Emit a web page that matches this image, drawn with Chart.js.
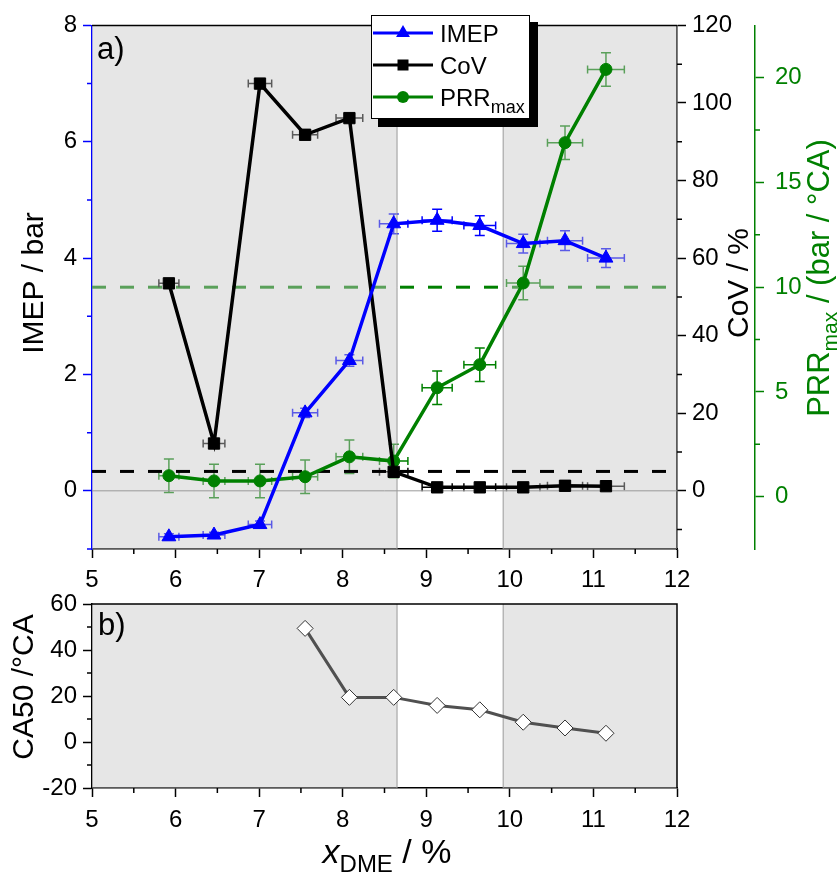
<!DOCTYPE html>
<html>
<head>
<meta charset="utf-8">
<script src="https://cdn.jsdelivr.net/npm/chart.js@4.4.0/dist/chart.umd.min.js"></script>
<style>
  body { margin: 0; background: #fff; }
  #wrap { position: relative; width: 840px; height: 874px; }
  canvas { position: absolute; left: 0; }
  #top { top: 0; }
  #bot { top: 580px; }
</style>
</head>
<body>
<div id="wrap">
  <canvas id="top" width="840" height="600"></canvas>
  <canvas id="bot" width="840" height="294"></canvas>
</div>
<script>
// values
const xDme    = [5.92, 6.46, 7.01, 7.55, 8.08, 8.61, 9.13, 9.64, 10.16, 10.66, 11.15];
const xErr    = [0.12, 0.13, 0.14, 0.15, 0.16, 0.17, 0.18, 0.19, 0.20, 0.21, 0.22];
const imep    = [-0.79, -0.76, -0.58, 1.34, 2.24, 4.59, 4.65, 4.56, 4.25, 4.30, 4.00];
const imepErr = [0.05, 0.05, 0.06, 0.08, 0.10, 0.17, 0.19, 0.17, 0.16, 0.17, 0.16];
const cov     = [53.5, 12.2, 105.0, 91.8, 96.1, 4.9, 0.9, 0.9, 0.9, 1.3, 1.2];
const prr     = [1.0, 0.75, 0.75, 0.95, 1.9, 1.7, 5.2, 6.3, 10.2, 16.9, 20.4];
const prrErr  = [0.8, 0.8, 0.8, 0.8, 0.8, 0.8, 0.8, 0.8, 0.8, 0.8, 0.8];
const covLimit = 5;
const prrLimit = 10;
const whiteBand = [8.65, 9.92];

const ca50X = [7.55, 8.08, 8.61, 9.13, 9.64, 10.16, 10.66, 11.15];
const ca50  = [49.4, 19.4, 19.4, 15.9, 14.0, 8.6, 6.1, 3.8];

const seriesNames = ['IMEP', 'CoV', 'PRR'];

const xTicks  = [5, 5.5, 6, 6.5, 7, 7.5, 8, 8.5, 9, 9.5, 10, 10.5, 11, 11.5, 12];
const xLabels = [5, 6, 7, 8, 9, 10, 11, 12];
const imepTicks  = [-1, 0, 1, 2, 3, 4, 5, 6, 7, 8];
const imepLabels = [0, 2, 4, 6, 8];
const covTicks   = [-10, 0, 10, 20, 30, 40, 50, 60, 70, 80, 90, 100, 110, 120];
const covLabels  = [0, 20, 40, 60, 80, 100, 120];
const prrTicks   = [0, 2.5, 5, 7.5, 10, 12.5, 15, 17.5, 20];
const prrLabels  = [0, 5, 10, 15, 20];
const caTicks    = [-20, -10, 0, 10, 20, 30, 40, 50, 60];
const caLabels   = [-20, 0, 20, 40, 60];

const FONT = "'Liberation Sans', Arial, sans-serif";
Chart.defaults.font.family = FONT;
Chart.defaults.color = '#000';

const BLUE = '#0000ff', GREEN = '#008000', SHADE = 'rgba(200,200,200,0.45)';
const MAJOR = 9, MINOR = 5;

function pts(xs, ys) { return xs.map((x, i) => ({ x: x, y: ys[i] })); }

// major ticks come from chart.js, the short minor ones are added in afterDraw
function axis(pos, min, max, ticks, labels, color, extra, tickOpts) {
  return Object.assign({
    type: 'linear', position: pos, min: min, max: max, z: 1,
    afterBuildTicks: s => { s.ticks = ticks.map(v => ({ value: v })); },
    border: { color: color, width: 1.5 },
    grid: { drawOnChartArea: false, color: color, tickLength: MAJOR, tickWidth: 1.5,
            tickColor: c => labels.includes(c.tick.value) ? color : 'rgba(0,0,0,0)' },
    ticks: Object.assign({ autoSkip: false, maxRotation: 0, padding: 6, color: '#000', font: { size: 24 },
             callback: v => labels.includes(v) ? String(v) : '' }, tickOpts || {}),
    minorTicks: ticks.filter(v => !labels.includes(v)), minorColor: color
  }, extra || {});
}

function drawMinor(chart) {
  const ctx = chart.ctx;
  Object.values(chart.scales).forEach(s => {
    const o = s.options;
    if (!o.minorTicks) return;
    ctx.strokeStyle = o.minorColor;
    ctx.lineWidth = 1.5;
    ctx.beginPath();
    o.minorTicks.forEach(v => {
      const p = s.getPixelForValue(v);
      if (o.position === 'left') { ctx.moveTo(s.right, p); ctx.lineTo(s.right - MINOR, p); }
      else if (o.position === 'right') { ctx.moveTo(s.left, p); ctx.lineTo(s.left + MINOR, p); }
      else { ctx.moveTo(p, s.top); ctx.lineTo(p, s.top + MINOR); }
    });
    ctx.stroke();
  });
}

function errorBars(ctx, sx, sy, xs, ys, xe, ye, color) {
  ctx.strokeStyle = color;
  ctx.lineWidth = 1.5;
  ctx.beginPath();
  for (let i = 0; i < xs.length; i++) {
    const px = sx.getPixelForValue(xs[i]), py = sy.getPixelForValue(ys[i]);
    if (xe[i]) {
      const l = sx.getPixelForValue(xs[i] - xe[i]), r = sx.getPixelForValue(xs[i] + xe[i]);
      ctx.moveTo(l, py); ctx.lineTo(r, py);
      ctx.moveTo(l, py - 4); ctx.lineTo(l, py + 4);
      ctx.moveTo(r, py - 4); ctx.lineTo(r, py + 4);
    }
    if (ye[i]) {
      const t = sy.getPixelForValue(ys[i] + ye[i]), b = sy.getPixelForValue(ys[i] - ye[i]);
      ctx.moveTo(px, t); ctx.lineTo(px, b);
      ctx.moveTo(px - 5, t); ctx.lineTo(px + 5, t);
      ctx.moveTo(px - 5, b); ctx.lineTo(px + 5, b);
    }
  }
  ctx.stroke();
}

function shade(ctx, chart) {
  const a = chart.chartArea, sx = chart.scales.x;
  const b0 = sx.getPixelForValue(whiteBand[0]), b1 = sx.getPixelForValue(whiteBand[1]);
  ctx.fillStyle = SHADE;
  ctx.fillRect(a.left, a.top, b0 - a.left, a.bottom - a.top);
  ctx.fillRect(b1, a.top, a.right - b1, a.bottom - a.top);
  ctx.strokeStyle = '#999';
  ctx.lineWidth = 1;
  ctx.beginPath();
  ctx.moveTo(b0, a.top); ctx.lineTo(b0, a.bottom);
  ctx.moveTo(b1, a.top); ctx.lineTo(b1, a.bottom);
  ctx.stroke();
}

function hDash(ctx, a, y, color) {
  ctx.save();
  ctx.strokeStyle = color;
  ctx.lineWidth = 3;
  ctx.setLineDash([14, 14]);
  ctx.beginPath();
  ctx.moveTo(a.left, y); ctx.lineTo(a.right, y);
  ctx.stroke();
  ctx.restore();
}

// parts: [text, size, baseline shift, italic]
function textRun(ctx, parts, x, y, rotate, color) {
  ctx.save();
  ctx.translate(x, y);
  if (rotate) ctx.rotate(-Math.PI / 2);
  ctx.fillStyle = color;
  ctx.textBaseline = 'alphabetic';
  ctx.textAlign = 'left';
  let total = 0;
  parts.forEach(p => { ctx.font = (p[3] ? 'italic ' : '') + p[1] + 'px ' + FONT; total += ctx.measureText(p[0]).width; });
  let cx = -total / 2;
  parts.forEach(p => {
    ctx.font = (p[3] ? 'italic ' : '') + p[1] + 'px ' + FONT;
    ctx.fillText(p[0], cx, p[2]);
    cx += ctx.measureText(p[0]).width;
  });
  ctx.restore();
}

function marker(ctx, style, x, y, color) {
  ctx.fillStyle = color;
  ctx.beginPath();
  if (style === 'triangle') {
    const r = 8;
    ctx.moveTo(x, y - r);
    ctx.lineTo(x + r * 0.866, y + r / 2);
    ctx.lineTo(x - r * 0.866, y + r / 2);
    ctx.closePath();
  } else if (style === 'rect') {
    ctx.rect(x - 5.5, y - 5.5, 11, 11);
  } else {
    ctx.arc(x, y, 6, 0, Math.PI * 2);
  }
  ctx.fill();
}

function drawLegend(ctx) {
  ctx.fillStyle = '#000';
  ctx.fillRect(378, 22, 160, 105);
  ctx.fillStyle = '#fff';
  ctx.fillRect(371, 15, 159, 104);
  ctx.strokeStyle = '#000';
  ctx.lineWidth = 1;
  ctx.strokeRect(371.5, 15.5, 158, 103);
  const rows = [[seriesNames[0], BLUE, 'triangle', 33], [seriesNames[1], '#000', 'rect', 65], [seriesNames[2], GREEN, 'circle', 97]];
  ctx.font = '24px ' + FONT;
  rows.forEach(r => {
    ctx.strokeStyle = r[1];
    ctx.lineWidth = 3;
    ctx.beginPath();
    ctx.moveTo(373, r[3]); ctx.lineTo(433, r[3]);
    ctx.stroke();
    marker(ctx, r[2], 403, r[3], r[1]);
    ctx.fillStyle = '#000';
    ctx.fillText(r[0], 440, r[3] + 9);
  });
  const w = ctx.measureText(seriesNames[2]).width;
  ctx.font = '18px ' + FONT;
  ctx.fillText('max', 440 + w, 97 + 16);
}

const topDeco = {
  id: 'topDeco',
  beforeDatasetsDraw(chart) {
    const ctx = chart.ctx, a = chart.chartArea, s = chart.scales;
    ctx.save();
    ctx.beginPath();
    ctx.rect(a.left, a.top, a.right - a.left, a.bottom - a.top);
    ctx.clip();
    // drawn under the shading, so they come out paler in the grey bands
    hDash(ctx, a, s.prr.getPixelForValue(prrLimit), GREEN);
    errorBars(ctx, s.x, s.prr, xDme, prr, xErr, prrErr, GREEN);
    errorBars(ctx, s.x, s.y, xDme, imep, xErr, imepErr, BLUE);
    errorBars(ctx, s.x, s.cov, xDme, cov, xErr, [], '#000');
    shade(ctx, chart);
    const y0 = s.y.getPixelForValue(0);
    ctx.strokeStyle = '#999';
    ctx.lineWidth = 1;
    ctx.beginPath();
    ctx.moveTo(a.left, y0); ctx.lineTo(a.right, y0);
    ctx.stroke();
    hDash(ctx, a, s.cov.getPixelForValue(covLimit), '#000');
    ctx.restore();
  },
  afterDraw(chart) {
    const ctx = chart.ctx, a = chart.chartArea;
    ctx.save();
    drawMinor(chart);
    ctx.strokeStyle = '#000';
    ctx.lineWidth = 1.5;
    ctx.beginPath();
    ctx.moveTo(a.left, a.top); ctx.lineTo(a.right, a.top);
    ctx.stroke();
    ctx.fillStyle = '#000';
    ctx.font = '31px ' + FONT;
    ctx.fillText('a)', a.left + 5, a.top + 34);
    textRun(ctx, [['IMEP / bar', 30, 0]], 43, 283, true, '#000');
    textRun(ctx, [['CoV / %', 30, 0]], 748, 283, true, '#000');
    textRun(ctx, [['PRR', 31, 0], ['max', 21, 8], [' / (bar / °CA)', 31, 0]], 829, 278, true, GREEN);
    drawLegend(ctx);
    ctx.restore();
  }
};

const botDeco = {
  id: 'botDeco',
  beforeDatasetsDraw(chart) {
    const ctx = chart.ctx;
    ctx.save();
    shade(ctx, chart);
    ctx.restore();
  },
  afterDraw(chart) {
    const ctx = chart.ctx, a = chart.chartArea;
    ctx.save();
    drawMinor(chart);
    ctx.strokeStyle = '#000';
    ctx.lineWidth = 1.5;
    ctx.beginPath();
    ctx.moveTo(a.left, a.top); ctx.lineTo(a.right, a.top); ctx.lineTo(a.right, a.bottom);
    ctx.stroke();
    ctx.fillStyle = '#000';
    ctx.font = '31px ' + FONT;
    ctx.fillText('b)', a.left + 6, a.top + 31);
    textRun(ctx, [['CA50 /°CA', 30, 0]], 33, 107, true, '#000');
    textRun(ctx, [['x', 34, 0, true], ['DME', 24, 9], [' / %', 34, 0]], 387, 283, false, '#000');
    ctx.restore();
  }
};

new Chart(document.getElementById('top'), {
  type: 'line',
  data: {
    datasets: [
      { label: seriesNames[0], data: pts(xDme, imep), yAxisID: 'y', borderColor: BLUE, backgroundColor: BLUE,
        borderWidth: 3.5, pointStyle: 'triangle', pointRadius: 8, pointBorderWidth: 1 },
      { label: seriesNames[1], data: pts(xDme, cov), yAxisID: 'cov', borderColor: '#000', backgroundColor: '#000',
        borderWidth: 3.5, pointStyle: 'rect', pointRadius: 8, pointBorderWidth: 1 },
      { label: seriesNames[2], data: pts(xDme, prr), yAxisID: 'prr', borderColor: GREEN, backgroundColor: GREEN,
        borderWidth: 3.5, pointStyle: 'circle', pointRadius: 6, pointBorderWidth: 1 }
    ]
  },
  options: {
    responsive: false, animation: false,
    layout: { padding: { top: 24, left: 0, right: 0, bottom: 0 } },
    plugins: { legend: { display: false }, tooltip: { enabled: false } },
    elements: { line: { tension: 0 } },
    scales: {
      x: axis('bottom', 5, 12, xTicks, xLabels, '#000', { afterFit: s => { s.height = 51; } }, { padding: 8 }),
      y: axis('left', -1, 8, imepTicks, imepLabels, BLUE, { afterFit: s => { s.width = 92; } }),
      cov: axis('right', -15, 120, covTicks, covLabels, '#000', { weight: 0, afterFit: s => { s.width = 78; } }, { padding: 6 }),
      prr: axis('right', -2.5, 22.5, prrTicks, prrLabels, GREEN, { weight: 1, afterFit: s => { s.width = 85; } },
                { padding: 11, color: GREEN })
    }
  },
  plugins: [topDeco]
});

new Chart(document.getElementById('bot'), {
  type: 'line',
  data: {
    datasets: [
      { label: 'CA50', data: pts(ca50X, ca50), borderColor: '#505050', backgroundColor: '#fff',
        borderWidth: 3, pointStyle: 'rectRot', pointRadius: 8, pointBorderWidth: 1, pointBorderColor: '#333' }
    ]
  },
  options: {
    responsive: false, animation: false,
    layout: { padding: { top: 24, left: 0, right: 163, bottom: 0 } },
    plugins: { legend: { display: false }, tooltip: { enabled: false } },
    elements: { line: { tension: 0 } },
    scales: {
      x: axis('bottom', 5, 12, xTicks, xLabels, '#000', { afterFit: s => { s.height = 86; } }, { padding: 9 }),
      y: axis('left', -20, 60, caTicks, caLabels, '#000', { afterFit: s => { s.width = 92; } })
    }
  },
  plugins: [botDeco]
});
</script>
</body>
</html>
